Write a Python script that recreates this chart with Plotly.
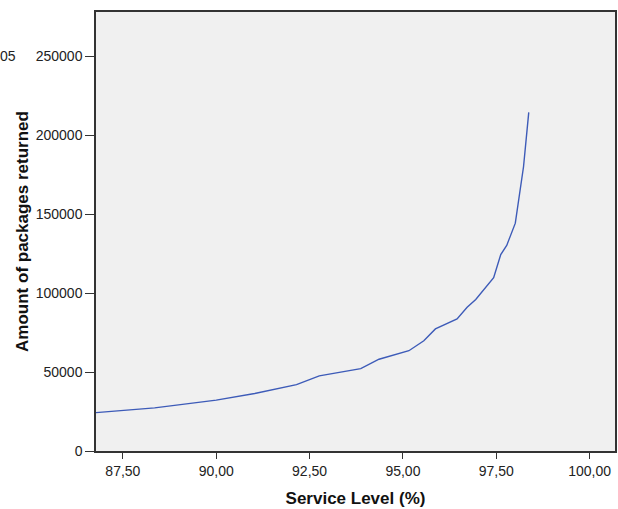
import plotly.graph_objects as go

# Service level (%) versus amount of packages returned
service_level = [86.78, 88.35, 90.00, 91.03, 92.15, 92.76, 93.87, 94.36, 95.16, 95.56,
                 95.87, 96.45, 96.72, 96.95, 97.43, 97.62, 97.78, 98.01, 98.23, 98.37]
packages_returned = [24300, 27300, 32200, 36400, 42000, 47600, 52200, 58100, 63500, 69800,
                     77300, 83600, 91000, 96000, 109700, 124400, 130200, 144300, 180000, 214400]

x_ticks = [87.5, 90.0, 92.5, 95.0, 97.5, 100.0]
x_tick_text = ["87,50", "90,00", "92,50", "95,00", "97,50", "100,00"]
y_ticks = [0, 50000, 100000, 150000, 200000, 250000]
y_tick_text = ["0", "50000", "100000", "150000", "200000", "250000"]

fig = go.Figure()
fig.add_trace(go.Scatter(
    x=service_level, y=packages_returned, mode="lines",
    line=dict(color="#3d5bb8", width=1.4), showlegend=False,
))

font = "Liberation Sans, Arial, sans-serif"
fig.update_layout(
    width=618, height=509,
    margin=dict(l=96, r=1, t=12, b=58),
    paper_bgcolor="white", plot_bgcolor="#f0f0f0",
    font=dict(family=font, size=14, color="#222"),
    xaxis=dict(
        range=[86.78, 100.68], tickvals=x_ticks, ticktext=x_tick_text,
        ticks="outside", ticklen=6, tickwidth=1.2, tickcolor="#333",
        showline=True, linecolor="#333", linewidth=1.5, mirror=True,
        showgrid=False, zeroline=False,
        title=dict(text="<b>Service Level (%)</b>", font=dict(size=17, color="#111"), standoff=15),
    ),
    yaxis=dict(
        range=[0, 278000], tickvals=y_ticks, ticktext=y_tick_text,
        ticks="outside", ticklen=9, tickwidth=1.2, tickcolor="#333",
        showline=True, linecolor="#333", linewidth=1.5, mirror=True,
        showgrid=False, zeroline=False,
        title=dict(text="<b>Amount of packages returned</b>", font=dict(size=17, color="#111"), standoff=3),
    ),
    annotations=[dict(
        text="05", xref="paper", yref="paper", x=-96 / 521, y=(451 - 56) / 439,
        xanchor="left", yanchor="middle", showarrow=False, xshift=-2,
        font=dict(size=14, color="#222"),
    )],
)

fig.write_html("out.html")
